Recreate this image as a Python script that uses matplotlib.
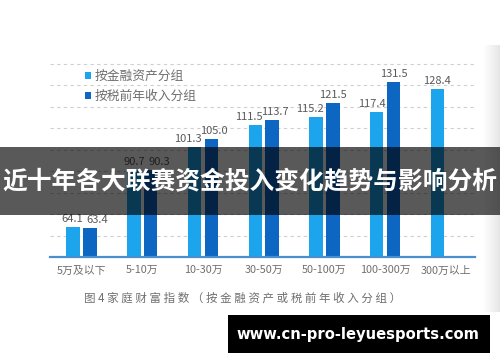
import matplotlib
matplotlib.use("Agg")
import matplotlib.pyplot as plt
from matplotlib.patches import Rectangle
import numpy as np

plt.rcParams["font.family"] = ["Noto Sans CJK SC", "DejaVu Sans"]

# data
categories = ["5万及以下", "5-10万", "10-30万", "30-50万", "50-100万", "100-300万", "300万以上"]
by_assets = [64.1, 90.7, 101.3, 111.5, 115.2, 117.4, 128.4]
by_income = [63.4, 90.3, 105.0, 113.7, 121.5, 131.5, np.nan]
series_names = ["按金融资产分组", "按税前年收入分组"]
caption = "图 4 家庭财富指数（按金融资产或税前年收入分组）"
banner = "近十年各大联赛资金投入变化趋势与影响分析"
watermark = "www.cn-pro-leyuesports.com"

light = "#1CA4EC"
dark = "#0D66C2"
gray_text = "#6f6f6f"

# small nudges (pixels) so labels don't collide, like the original
light_nudge = [-1, 0, -7, -6, -6, -5, 0]
dark_nudge = [7, 9, 2, 3, 0, 0, 0]

W, H = 500, 362
fig = plt.figure(figsize=(5, 3.62), dpi=100)
ax = fig.add_axes([50 / W, 1 - 257 / H, 425 / W, 204 / H])

x = np.arange(len(categories))
bw = 0.222
off = 0.139
b1 = ax.bar(x - off, by_assets, bw, color=light, label=series_names[0], zorder=3)
b2 = ax.bar(x + off, by_income, bw, color=dark, label=series_names[1], zorder=3)

for i, v in enumerate(by_assets):
    ax.annotate(f"{v:.1f}", (x[i] - off, v), xytext=(light_nudge[i], 3),
                textcoords="offset pixels", ha="center", va="bottom",
                fontsize=8, color="#595959")
for i, v in enumerate(by_income):
    if np.isnan(v):
        continue
    ax.annotate(f"{v:.1f}", (x[i] + off, v), xytext=(dark_nudge[i], 3),
                textcoords="offset pixels", ha="center", va="bottom",
                fontsize=8, color="#595959")

ax.set_xlim(-0.52, 6.48)
ax.set_ylim(50, 145)
ax.set_yticks(np.arange(60, 141, 10))
ax.yaxis.grid(True, color="#cfcfcf", linestyle=(0, (3, 3)), linewidth=0.8, zorder=0)
ax.tick_params(axis="y", left=False, labelleft=False)
ax.set_xticks(x)
ax.set_xticklabels(categories, fontsize=7.8, color=gray_text)
ax.tick_params(axis="x", length=0, pad=6)
for s in ["top", "left", "right"]:
    ax.spines[s].set_visible(False)
ax.spines["bottom"].set_color("#4A8FCF")
ax.spines["bottom"].set_linewidth(1.6)
ax.spines["bottom"].set_zorder(4)

ax.legend(handles=[b1, b2], loc="upper left", bbox_to_anchor=(85 / W, 1 - 70 / H),
          bbox_transform=fig.transFigure, frameon=False, borderpad=0, borderaxespad=0,
          handlelength=0.5, handleheight=0.5, handletextpad=0.25, labelspacing=0.55,
          fontsize=9.2, labelcolor=gray_text)

# caption under the chart, spaced out
fig.text(243 / W, 1 - 298 / H, " ".join(caption.replace(" ", "")), ha="center", va="center",
         fontsize=8.3, color=gray_text)

# page-edge shadow at the right
sh = fig.add_axes([483 / W, 1 - 312 / H, 17 / W, 267 / H], zorder=0.5)
sh.imshow(np.linspace(1.0, 0.9, 50)[None, :], cmap="gray", vmin=0, vmax=1, aspect="auto")
sh.axis("off")

# dark banner with title
fig.patches.append(Rectangle((0, 1 - 215 / H), 1, 68 / H, transform=fig.transFigure,
                             facecolor="black", alpha=0.65, zorder=5))
fig.text(0.5, 1 - 181 / H, banner, ha="center", va="center", fontsize=17.8,
         fontweight="bold", color="white", zorder=6)

# watermark box
fig.patches.append(Rectangle((228 / W, 1 - 353 / H), 262 / W, 38 / H, transform=fig.transFigure,
                             facecolor="black", zorder=5))
fig.text(358 / W, 1 - 334 / H, watermark, ha="center", va="center", fontsize=10.6,
         fontweight="bold", color="white", family=["DejaVu Sans"], zorder=6)

fig.savefig("out.png", dpi=100)
